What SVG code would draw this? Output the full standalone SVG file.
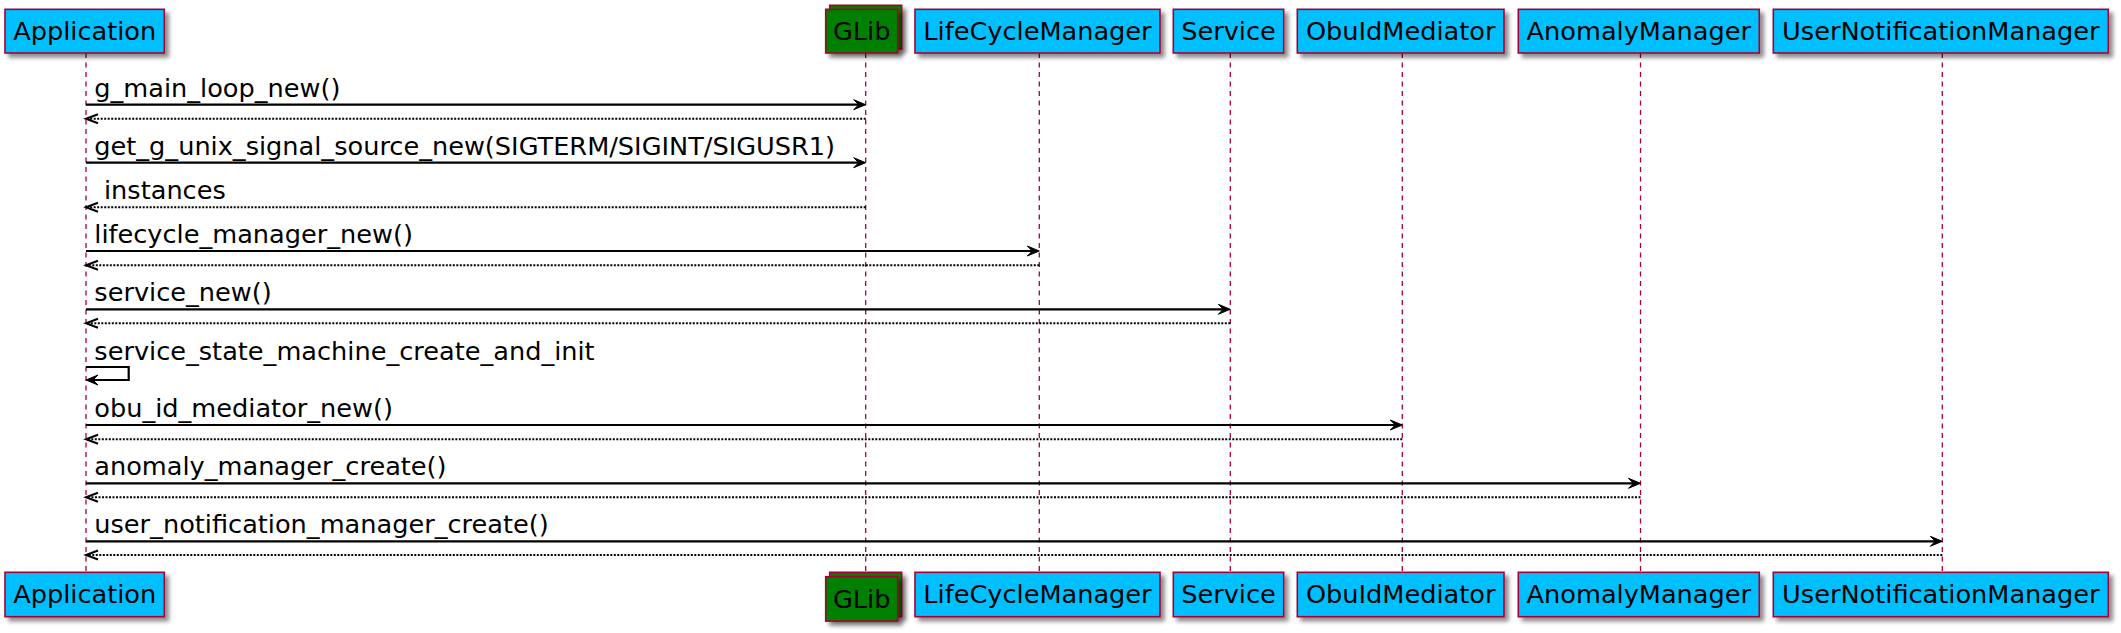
<svg xmlns="http://www.w3.org/2000/svg" width="2121" height="633" viewBox="0 0 2121 633">
<defs>
<filter id="sh" x="-10%" y="-20%" width="130%" height="160%">
<feGaussianBlur in="SourceAlpha" stdDeviation="2"/>
<feOffset dx="4" dy="4" result="b"/>
<feComponentTransfer><feFuncA type="linear" slope="0.45"/></feComponentTransfer>
<feMerge><feMergeNode/><feMergeNode in="SourceGraphic"/></feMerge>
</filter>
</defs>
<style>
.box{fill:#00BFFF;stroke:#A80036;stroke-width:1.6;filter:url(#sh)}
.gbox{fill:#008000;stroke:#A80036;stroke-width:1.6;filter:url(#sh)}
.pt{font-family:"DejaVu Sans",sans-serif;font-size:25.6px;fill:#000;text-anchor:middle}
.life{stroke:#A80036;stroke-width:1.3;stroke-dasharray:5,4.5;fill:none}
.msg{stroke:#000;stroke-width:2.2;fill:none}
.ret{stroke:#000;stroke-width:2;stroke-dasharray:2,1.5;fill:none}
.head{fill:#000;stroke:#000;stroke-width:1}
.ohead{fill:none;stroke:#000;stroke-width:2}
.lbl{font-family:"DejaVu Sans",sans-serif;font-size:25.6px;fill:#000}
</style>
<rect width="2121" height="633" fill="#FFFFFF"/>
<g id="lifelines">
<line class="life" x1="86" y1="53" x2="86" y2="572"/>
<line class="life" x1="865.7" y1="53" x2="865.7" y2="576"/>
<line class="life" x1="1039.3" y1="53" x2="1039.3" y2="572"/>
<line class="life" x1="1230.3" y1="53" x2="1230.3" y2="572"/>
<line class="life" x1="1402.3" y1="53" x2="1402.3" y2="572"/>
<line class="life" x1="1640.5" y1="53" x2="1640.5" y2="572"/>
<line class="life" x1="1942.3" y1="53" x2="1942.3" y2="572"/>
</g>
<g id="Application">
<rect class="box" x="5" y="9.3" width="159.3" height="43.7"/>
<text class="pt" x="84.7" y="39.5">Application</text>
<rect class="box" x="5" y="572.3" width="159.3" height="44.4"/>
<text class="pt" x="84.7" y="603.3">Application</text>
</g>
<g id="GLib">
<rect class="gbox" x="829.7" y="5.3" width="72" height="43.7"/>
<rect class="gbox" x="825.7" y="9.3" width="72" height="43.7"/>
<text class="pt" x="861.7" y="39.5">GLib</text>
<rect class="gbox" x="829.7" y="572.3" width="72" height="44.4"/>
<rect class="gbox" x="825.7" y="576.7" width="72" height="44.4"/>
<text class="pt" x="861.7" y="607.7">GLib</text>
</g>
<g id="LifeCycleManager">
<rect class="box" x="915" y="9.3" width="245" height="43.7"/>
<text class="pt" x="1037.5" y="39.5">LifeCycleManager</text>
<rect class="box" x="915" y="572.3" width="245" height="44.4"/>
<text class="pt" x="1037.5" y="603.3">LifeCycleManager</text>
</g>
<g id="Service">
<rect class="box" x="1173.3" y="9.3" width="110.4" height="43.7"/>
<text class="pt" x="1228.5" y="39.5">Service</text>
<rect class="box" x="1173.3" y="572.3" width="110.4" height="44.4"/>
<text class="pt" x="1228.5" y="603.3">Service</text>
</g>
<g id="ObuIdMediator">
<rect class="box" x="1297.3" y="9.3" width="206.7" height="43.7"/>
<text class="pt" x="1400.7" y="39.5">ObuIdMediator</text>
<rect class="box" x="1297.3" y="572.3" width="206.7" height="44.4"/>
<text class="pt" x="1400.7" y="603.3">ObuIdMediator</text>
</g>
<g id="AnomalyManager">
<rect class="box" x="1518.3" y="9.3" width="241" height="43.7"/>
<text class="pt" x="1638.8" y="39.5">AnomalyManager</text>
<rect class="box" x="1518.3" y="572.3" width="241" height="44.4"/>
<text class="pt" x="1638.8" y="603.3">AnomalyManager</text>
</g>
<g id="UserNotificationManager">
<rect class="box" x="1773.3" y="9.3" width="335" height="43.7"/>
<text class="pt" x="1940.8" y="39.5">UserNotificationManager</text>
<rect class="box" x="1773.3" y="572.3" width="335" height="44.4"/>
<text class="pt" x="1940.8" y="603.3">UserNotificationManager</text>
</g>
<g id="connectors">
<!-- 1 -->
<line class="msg" x1="86" y1="104.7" x2="862" y2="104.7"/>
<polygon class="head" points="853.7,99.7 865.7,104.7 853.7,109.7 858.7,104.7"/>
<text class="lbl" x="94.3" y="96.7">g_main_loop_new()</text>
<line class="ret" x1="865.7" y1="118.7" x2="87" y2="118.7"/>
<polyline class="ohead" points="98,114.2 86,118.7 98,123.2"/>
<!-- 2 -->
<line class="msg" x1="86" y1="162.7" x2="862" y2="162.7"/>
<polygon class="head" points="853.7,157.7 865.7,162.7 853.7,167.7 858.7,162.7"/>
<text class="lbl" x="94.3" y="154.7">get_g_unix_signal_source_new(SIGTERM/SIGINT/SIGUSR1)</text>
<!-- 3 -->
<line class="ret" x1="865.7" y1="207.3" x2="87" y2="207.3"/>
<polyline class="ohead" points="98,202.8 86,207.3 98,211.8"/>
<text class="lbl" x="104" y="198.7">instances</text>
<!-- 4 -->
<line class="msg" x1="86" y1="251" x2="1035.6" y2="251"/>
<polygon class="head" points="1027.3,246 1039.3,251 1027.3,256 1032.3,251"/>
<text class="lbl" x="94.3" y="243">lifecycle_manager_new()</text>
<line class="ret" x1="1039.3" y1="265.3" x2="87" y2="265.3"/>
<polyline class="ohead" points="98,260.8 86,265.3 98,269.8"/>
<!-- 5 -->
<line class="msg" x1="86" y1="309.3" x2="1226.6" y2="309.3"/>
<polygon class="head" points="1218.3,304.3 1230.3,309.3 1218.3,314.3 1223.3,309.3"/>
<text class="lbl" x="94.3" y="301.3">service_new()</text>
<line class="ret" x1="1230.3" y1="323.3" x2="87" y2="323.3"/>
<polyline class="ohead" points="98,318.8 86,323.3 98,327.8"/>
<!-- 6 self -->
<polyline class="msg" points="86,367 128.7,367 128.7,380 89,380"/>
<polygon class="head" points="98,375 86,380 98,385 93,380"/>
<text class="lbl" x="94.3" y="360">service_state_machine_create_and_init</text>
<!-- 7 -->
<line class="msg" x1="86" y1="425" x2="1398.6" y2="425"/>
<polygon class="head" points="1390.3,420 1402.3,425 1390.3,430 1395.3,425"/>
<text class="lbl" x="94.3" y="416.7">obu_id_mediator_new()</text>
<line class="ret" x1="1402.3" y1="439.3" x2="87" y2="439.3"/>
<polyline class="ohead" points="98,434.8 86,439.3 98,443.8"/>
<!-- 8 -->
<line class="msg" x1="86" y1="483.3" x2="1636.8" y2="483.3"/>
<polygon class="head" points="1628.5,478.3 1640.5,483.3 1628.5,488.3 1633.5,483.3"/>
<text class="lbl" x="94.3" y="475.3">anomaly_manager_create()</text>
<line class="ret" x1="1640.5" y1="497.3" x2="87" y2="497.3"/>
<polyline class="ohead" points="98,492.8 86,497.3 98,501.8"/>
<!-- 9 -->
<line class="msg" x1="86" y1="541.3" x2="1938.6" y2="541.3"/>
<polygon class="head" points="1930.3,536.3 1942.3,541.3 1930.3,546.3 1935.3,541.3"/>
<text class="lbl" x="94.3" y="533.3">user_notification_manager_create()</text>
<line class="ret" x1="1942.3" y1="555" x2="87" y2="555"/>
<polyline class="ohead" points="98,550.5 86,555 98,559.5"/>
</g>
</svg>
